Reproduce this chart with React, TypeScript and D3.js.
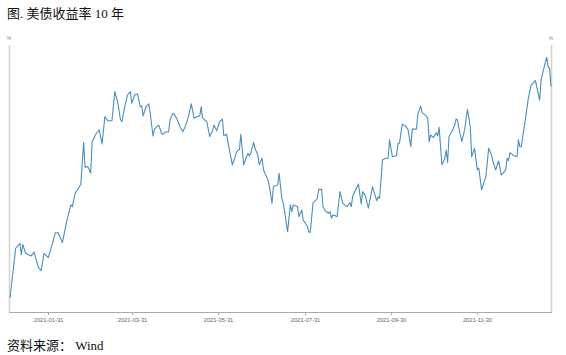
import React from "react";
import * as d3 from "d3";

const title = "图. 美债收益率 10 年";
const source = "资料来源： Wind";
const unitLabel = "%";

const dates: string[] = [
  "2021-01-04","2021-01-08","2021-01-11","2021-01-12","2021-01-13","2021-01-15","2021-01-19","2021-01-21","2021-01-24","2021-01-26",
  "2021-01-28","2021-01-31","2021-02-03","2021-02-05","2021-02-07","2021-02-10","2021-02-13","2021-02-16","2021-02-17","2021-02-19",
  "2021-02-22","2021-02-23","2021-02-25","2021-02-26","2021-02-28","2021-03-02","2021-03-03","2021-03-06","2021-03-08","2021-03-10",
  "2021-03-12","2021-03-14","2021-03-17","2021-03-19","2021-03-21","2021-03-23","2021-03-24","2021-03-26","2021-03-28","2021-03-30",
  "2021-03-31","2021-04-02","2021-04-04","2021-04-06","2021-04-07","2021-04-08","2021-04-10","2021-04-12","2021-04-13","2021-04-15",
  "2021-04-16","2021-04-19","2021-04-21","2021-04-22","2021-04-24","2021-04-26","2021-04-27","2021-04-29","2021-04-30","2021-05-02",
  "2021-05-04","2021-05-06","2021-05-08","2021-05-10","2021-05-12","2021-05-14","2021-05-16","2021-05-18","2021-05-19","2021-05-20",
  "2021-05-23","2021-05-25","2021-05-27","2021-05-28","2021-05-30","2021-06-01","2021-06-03","2021-06-04","2021-06-06","2021-06-07",
  "2021-06-10","2021-06-12","2021-06-13","2021-06-15","2021-06-16","2021-06-18","2021-06-20","2021-06-21","2021-06-22","2021-06-23",
  "2021-06-25","2021-06-26","2021-06-28","2021-06-29","2021-07-01","2021-07-02","2021-07-05","2021-07-06","2021-07-08","2021-07-09",
  "2021-07-10","2021-07-12","2021-07-13","2021-07-15","2021-07-16","2021-07-19","2021-07-21","2021-07-22","2021-07-23","2021-07-26",
  "2021-07-27","2021-07-29","2021-07-30","2021-08-02","2021-08-03","2021-08-04","2021-08-06","2021-08-08","2021-08-09","2021-08-10",
  "2021-08-12","2021-08-13","2021-08-15","2021-08-17","2021-08-18","2021-08-19","2021-08-20","2021-08-22","2021-08-23","2021-08-25",
  "2021-08-27","2021-08-30","2021-09-01","2021-09-02","2021-09-03","2021-09-07","2021-09-09","2021-09-10","2021-09-12","2021-09-14",
  "2021-09-17","2021-09-20","2021-09-21","2021-09-22","2021-09-24","2021-09-26","2021-09-28","2021-09-29","2021-10-01","2021-10-03",
  "2021-10-04","2021-10-05","2021-10-06","2021-10-08","2021-10-10","2021-10-12","2021-10-14","2021-10-15","2021-10-18","2021-10-19",
  "2021-10-21","2021-10-22","2021-10-24","2021-10-26","2021-10-27","2021-10-28","2021-10-30","2021-11-01","2021-11-02","2021-11-03",
  "2021-11-05","2021-11-07","2021-11-08","2021-11-09","2021-11-10","2021-11-12","2021-11-14","2021-11-15","2021-11-16","2021-11-17",
  "2021-11-19","2021-11-21","2021-11-23","2021-11-25","2021-11-26","2021-11-28","2021-11-30","2021-12-01","2021-12-03","2021-12-06",
  "2021-12-08","2021-12-10","2021-12-11","2021-12-13","2021-12-15","2021-12-17","2021-12-18","2021-12-20","2021-12-21","2021-12-22",
  "2021-12-23","2021-12-25","2021-12-28","2021-12-29","2021-12-30","2021-12-31","2022-01-03","2022-01-05","2022-01-07","2022-01-10",
  "2022-01-13","2022-01-14","2022-01-16","2022-01-18","2022-01-19","2022-01-20","2022-01-21"
];

const yields: number[] = [
  0.93,1.125,1.144,1.10,1.14,1.105,1.095,1.11,1.05,1.037,
  1.105,1.088,1.144,1.186,1.186,1.147,1.23,1.295,1.288,1.34,
  1.366,1.376,1.54,1.443,1.445,1.42,1.543,1.576,1.589,1.534,
  1.641,1.625,1.625,1.739,1.70,1.63,1.621,1.68,1.726,1.739,
  1.693,1.726,1.73,1.68,1.683,1.644,1.68,1.691,1.654,1.565,
  1.592,1.608,1.576,1.572,1.582,1.581,1.628,1.654,1.65,1.631,
  1.602,1.582,1.605,1.641,1.691,1.635,1.641,1.644,1.68,1.635,
  1.621,1.563,1.586,1.608,1.586,1.621,1.631,1.566,1.572,1.537,
  1.452,1.484,1.504,1.513,1.572,1.452,1.484,1.497,1.487,1.497,
  1.54,1.517,1.491,1.452,1.478,1.432,1.395,1.373,1.301,1.366,
  1.369,1.373,1.419,1.318,1.301,1.19,1.295,1.269,1.295,1.288,
  1.249,1.275,1.236,1.21,1.188,1.188,1.304,1.314,1.321,1.356,
  1.356,1.288,1.269,1.262,1.269,1.243,1.255,1.252,1.249,1.347,
  1.301,1.288,1.304,1.288,1.33,1.377,1.299,1.347,1.33,1.282,
  1.366,1.311,1.327,1.321,1.471,1.478,1.478,1.55,1.484,1.487,
  1.49,1.537,1.537,1.611,1.605,1.592,1.523,1.592,1.592,1.65,
  1.683,1.657,1.648,1.635,1.543,1.569,1.559,1.578,1.565,1.599,
  1.452,1.478,1.51,1.461,1.563,1.582,1.608,1.632,1.628,1.595,
  1.543,1.589,1.67,1.602,1.484,1.517,1.432,1.439,1.354,1.406,
  1.517,1.491,1.465,1.432,1.468,1.412,1.419,1.432,1.478,1.468,
  1.50,1.491,1.484,1.55,1.523,1.523,1.635,1.713,1.765,1.782,
  1.706,1.785,1.831,1.874,1.835,1.831,1.759
];

const tickDates: string[] = ["2021-01-31","2021-03-31","2021-05-31","2021-07-31","2021-09-30","2021-11-30"];

const W = 566;
const H = 355;
const left = 10;
const right = 551;
const top = 45;
const bottom = 312;

export default function App() {
  const parse = d3.utcParse("%Y-%m-%d");
  const pts = dates.map((d, i) => ({ date: parse(d) as Date, v: yields[i] }));
  const x = d3
    .scaleUtc()
    .domain(d3.extent(pts, (p) => p.date) as [Date, Date])
    .range([left, right]);
  const y = d3.scaleLinear().domain([0.875, 1.922]).range([bottom, top]);
  const line = d3
    .line<{ date: Date; v: number }>()
    .x((p) => x(p.date))
    .y((p) => y(p.v));
  const cjk = "'Liberation Serif', 'Noto Sans CJK SC', serif";
  const sans = "'Liberation Sans', Arial, sans-serif";

  return (
    <svg
      width={W}
      height={H}
      style={{ position: "absolute", left: 0, top: 0, background: "#fff" }}
    >
      <text x={7} y={18} fontSize={13} fontFamily={cjk} fill="#111">
        {title}
      </text>
      <text x={left - 1} y={40} fontSize={5} fontFamily={sans} fill="#888" textAnchor="middle">
        {unitLabel}
      </text>
      <text x={right} y={40} fontSize={5} fontFamily={sans} fill="#888" textAnchor="middle">
        {unitLabel}
      </text>
      <line x1={left - 0.5} x2={left - 0.5} y1={top} y2={bottom} stroke="#d3d3d3" strokeWidth={1.6} />
      <line x1={right + 0.5} x2={right + 0.5} y1={top} y2={bottom} stroke="#d3d3d3" strokeWidth={1.6} />
      <line x1={left - 1} x2={right + 1} y1={bottom + 0.5} y2={bottom + 0.5} stroke="#aaa" strokeWidth={1} />
      {tickDates.map((t) => {
        const tx = Math.round(x(parse(t) as Date)) + 0.5;
        return (
          <g key={t}>
            <line x1={tx} x2={tx} y1={bottom} y2={bottom + 3} stroke="#aaa" strokeWidth={1} />
            <text x={tx} y={322} fontSize={5.8} fontFamily={sans} fill="#666" textAnchor="middle">
              {t}
            </text>
          </g>
        );
      })}
      <path d={line(pts) || ""} fill="none" stroke="#4a8fba" strokeWidth={1.1} strokeLinejoin="round" />
      <text x={7} y={350} fontSize={13} fontFamily={cjk} fill="#111">
        {source}
      </text>
    </svg>
  );
}
